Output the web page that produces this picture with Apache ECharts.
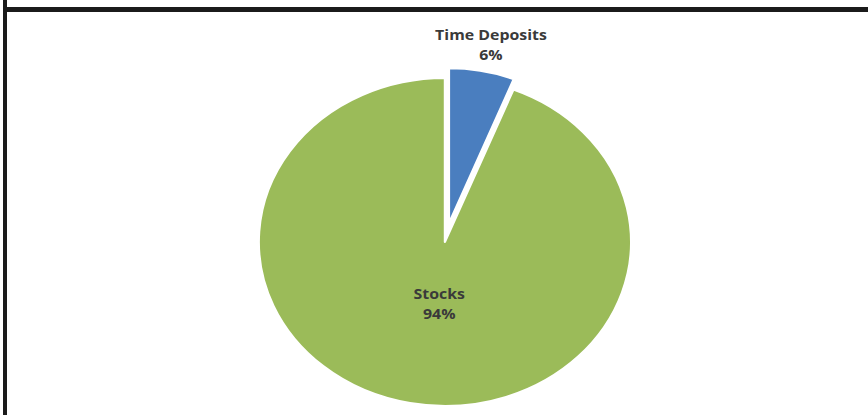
<!DOCTYPE html>
<html>
<head>
<meta charset="utf-8">
<script src="https://cdn.jsdelivr.net/npm/echarts@6/dist/echarts.min.js"></script>
<style>
  html, body { margin: 0; padding: 0; background: #fff; }
  body { width: 868px; height: 415px; position: relative; overflow: hidden; }
  #frameTop { position: absolute; left: 3px; top: 7px; width: 865px; height: 5px; background: #1b1b1b; }
  #frameLeft { position: absolute; left: 3px; top: 0; width: 4px; height: 415px; background: #1b1b1b; }
  #chart { position: absolute; left: 0; top: 0; width: 765px; height: 415px;
           transform: scaleX(1.135); transform-origin: 0 0; }
</style>
</head>
<body>
<div id="chart"></div>
<div id="frameTop"></div>
<div id="frameLeft"></div>
<script>
const categories = ['Time Deposits', 'Stocks'];
const values = [6, 94];
const colors = ['#4a7ebf', '#9bbb59'];

const chart = echarts.init(document.getElementById('chart'), null, { renderer: 'svg' });

const labelStyle = {
  formatter: '{b}\n{d}%',
  color: '#3a3a3a',
  fontFamily: 'Open Sans',
  fontWeight: 'bold',
  fontSize: 14,
  lineHeight: 20
};

const center = [392, 242];

// main pie (Stocks), Time Deposits left as an empty gap
const series1Data = categories.map((c, i) => ({
  name: c,
  value: values[i],
  itemStyle: i === 0 ? { color: 'transparent', borderWidth: 0 } : { color: colors[i] },
  label: i === 0 ? { show: false } : Object.assign({ show: true, position: 'center', offset: [-5, 61] }, labelStyle)
}));

// exploded slice (Time Deposits)
const series2Data = categories.map((c, i) => ({
  name: c,
  value: values[i],
  selected: i === 0,
  itemStyle: i === 0 ? { color: colors[i] } : { color: 'transparent', borderWidth: 0 },
  label: i === 0 ? Object.assign({ show: true, position: 'center' }, labelStyle) : { show: false }
}));

chart.setOption({
  animation: false,
  series: [
    {
      type: 'pie',
      silent: true,
      center: center,
      radius: [0, 164],
      startAngle: 90,
      clockwise: true,
      itemStyle: { borderColor: '#ffffff', borderWidth: 2 },
      labelLine: { show: false },
      data: series1Data
    },
    {
      type: 'pie',
      silent: true,
      center: center,
      radius: [0, 155],
      startAngle: 90,
      clockwise: true,
      selectedMode: 'single',
      selectedOffset: 19,
      itemStyle: { borderColor: '#ffffff', borderWidth: 2 },
      labelLine: { show: false },
      labelLayout: { dx: 37, dy: -179 },
      data: series2Data
    }
  ]
});
</script>
</body>
</html>
